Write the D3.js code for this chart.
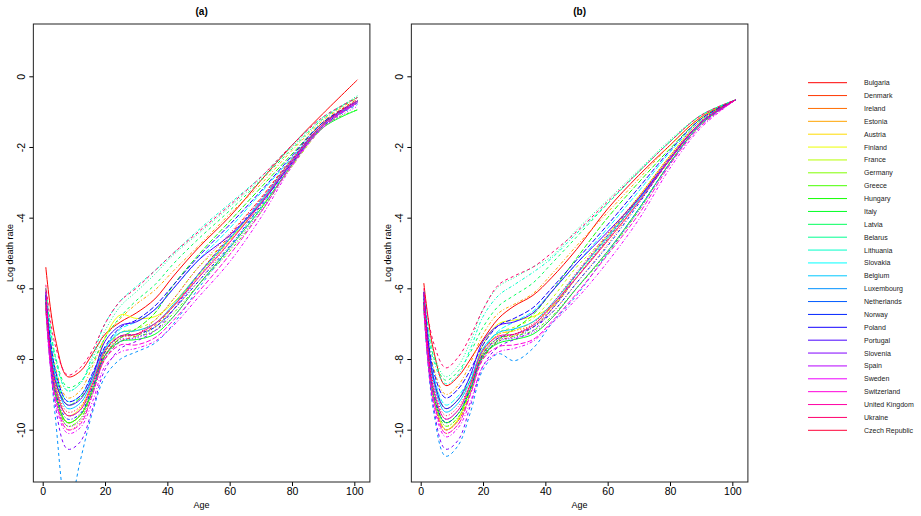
<!DOCTYPE html>
<html>
<head>
<meta charset="utf-8">
<script src="https://cdn.jsdelivr.net/npm/d3@7"></script>
<style>
  body { margin: 0; background: #fff; }
  text { font-family: "Liberation Sans", Arial, sans-serif; fill: #000; }
</style>
</head>
<body>
<div id="container"></div>
<script>
// Velikost celého obrázku
const width = 921;
const height = 516;

// Věkové uzly, ve kterých jsou odečtené hodnoty
const ages = [1, 4, 8, 12, 16, 20, 25, 30, 36, 42, 50, 60, 70, 80, 90, 101];

// Země (pořadí = pořadí v legendě)
const countries = ["Bulgaria", "Denmark", "Ireland", "Estonia", "Austria", "Finland", "France",
  "Germany", "Greece", "Hungary", "Italy", "Latvia", "Belarus", "Lithuania", "Slovakia",
  "Belgium", "Luxembourg", "Netherlands", "Norway", "Poland", "Portugal", "Slovenia", "Spain",
  "Sweden", "Switzerland", "United Kingdom", "Ukraine", "Czech Republic"];

// Panel (a): log úmrtnost podle věku
const logRateA = [
  [-5.4, -7.4, -8.5, -8.35, -7.85, -7.3, -6.95, -6.7, -6.3, -5.65, -4.85, -3.97, -2.95, -1.95, -1.05, -0.1],
  [-6.5, -8.9, -9.8, -9.6, -8.9, -8.0, -7.5, -7.35, -7.05, -6.5, -5.6, -4.5, -3.45, -2.3, -1.3, -0.65],
  [-6.3, -9.0, -10.0, -9.8, -9.0, -7.9, -7.35, -7.3, -7.1, -6.6, -5.8, -4.7, -3.55, -2.35, -1.35, -0.7],
  [-6.2, -8.2, -9.1, -8.9, -8.2, -7.4, -6.85, -6.45, -6.05, -5.5, -4.8, -3.9, -3.05, -2.1, -1.25, -0.6],
  [-6.5, -8.9, -9.8, -9.6, -8.8, -7.8, -7.25, -7.2, -7.0, -6.5, -5.65, -4.65, -3.6, -2.4, -1.35, -0.7],
  [-6.6, -8.7, -9.6, -9.4, -8.6, -7.4, -6.75, -6.85, -6.8, -6.4, -5.6, -4.6, -3.55, -2.4, -1.35, -0.7],
  [-6.4, -8.9, -9.8, -9.6, -8.8, -7.8, -7.25, -7.15, -6.9, -6.3, -5.4, -4.6, -3.7, -2.55, -1.45, -0.75],
  [-6.5, -9.0, -9.9, -9.7, -8.9, -7.9, -7.4, -7.3, -7.1, -6.5, -5.6, -4.6, -3.55, -2.35, -1.35, -0.7],
  [-6.2, -8.9, -9.9, -9.7, -8.9, -7.8, -7.35, -7.35, -7.2, -6.7, -5.9, -4.95, -3.85, -2.5, -1.4, -0.95],
  [-6.3, -8.4, -9.3, -9.1, -8.6, -7.9, -7.4, -7.15, -6.7, -5.9, -5.05, -4.1, -3.15, -2.2, -1.3, -0.7],
  [-6.4, -9.0, -9.8, -9.6, -8.9, -7.9, -7.5, -7.45, -7.3, -6.8, -5.9, -4.85, -3.75, -2.5, -1.45, -0.95],
  [-6.0, -7.9, -8.8, -8.65, -8.1, -7.4, -6.8, -6.35, -5.9, -5.3, -4.6, -3.8, -2.95, -2.05, -1.2, -0.6],
  [-6.0, -7.9, -8.9, -8.7, -8.0, -7.2, -6.5, -6.1, -5.6, -5.05, -4.45, -3.7, -2.9, -2.0, -1.2, -0.55],
  [-6.1, -8.0, -8.9, -8.7, -7.9, -7.0, -6.35, -5.95, -5.5, -5.0, -4.35, -3.6, -2.85, -1.95, -1.15, -0.6],
  [-6.1, -8.3, -9.2, -9.05, -8.45, -7.7, -7.15, -6.95, -6.6, -6.0, -5.2, -4.3, -3.3, -2.3, -1.35, -0.7],
  [-6.2, -8.5, -9.4, -9.25, -8.6, -7.7, -7.25, -7.2, -7.0, -6.45, -5.6, -4.6, -3.55, -2.4, -1.35, -0.75],
  [-6.6, -9.6, -12.4, -10.9, -9.5, -8.5, -8.0, -7.8, -7.55, -7.0, -6.0, -4.85, -3.7, -2.45, -1.4, -0.8],
  [-6.2, -8.7, -9.6, -9.45, -8.8, -7.95, -7.5, -7.4, -7.1, -6.6, -5.7, -4.6, -3.5, -2.35, -1.35, -0.7],
  [-6.3, -8.9, -9.7, -9.55, -8.8, -7.8, -7.35, -7.3, -7.1, -6.6, -5.8, -4.8, -3.65, -2.4, -1.35, -0.7],
  [-6.2, -8.3, -9.2, -9.05, -8.4, -7.65, -7.1, -6.9, -6.5, -5.9, -5.1, -4.2, -3.25, -2.25, -1.3, -0.7],
  [-6.1, -8.6, -9.3, -9.15, -8.5, -7.5, -7.05, -6.95, -6.6, -6.0, -5.2, -4.5, -3.6, -2.45, -1.4, -0.75],
  [-6.4, -9.3, -10.55, -10.35, -9.4, -8.3, -7.7, -7.5, -7.2, -6.6, -5.6, -4.55, -3.5, -2.35, -1.35, -0.7],
  [-6.3, -9.0, -9.9, -9.75, -8.95, -7.9, -7.45, -7.4, -7.2, -6.8, -5.9, -4.9, -3.8, -2.5, -1.45, -0.85],
  [-6.6, -9.2, -10.1, -9.95, -9.2, -8.2, -7.8, -7.7, -7.5, -7.05, -6.25, -5.25, -4.0, -2.55, -1.45, -0.75],
  [-6.5, -9.1, -10.0, -9.85, -9.0, -8.0, -7.6, -7.6, -7.4, -6.9, -6.1, -5.05, -3.85, -2.5, -1.4, -0.75],
  [-6.0, -8.8, -9.6, -9.45, -8.7, -7.75, -7.35, -7.3, -7.0, -6.5, -5.7, -4.7, -3.6, -2.4, -1.35, -0.7],
  [-5.9, -7.6, -8.45, -8.25, -7.75, -7.0, -6.35, -6.0, -5.5, -5.0, -4.4, -3.65, -2.85, -1.95, -1.15, -0.6],
  [-6.4, -8.6, -9.5, -9.35, -8.7, -7.9, -7.4, -7.3, -6.9, -6.3, -5.4, -4.45, -3.45, -2.35, -1.35, -0.65]
];

// Panel (b): log úmrtnost podle věku
const logRateB = [
  [-5.85, -7.7, -8.75, -8.5, -8.0, -7.45, -6.85, -6.5, -6.2, -5.7, -4.9, -3.75, -2.8, -1.95, -1.15, -0.67],
  [-6.5, -9.1, -10.0, -9.75, -8.95, -8.0, -7.5, -7.35, -7.1, -6.6, -5.7, -4.6, -3.45, -2.3, -1.3, -0.67],
  [-6.3, -9.0, -10.1, -9.85, -8.95, -7.85, -7.3, -7.2, -7.05, -6.7, -5.85, -4.75, -3.55, -2.35, -1.3, -0.67],
  [-6.2, -8.2, -9.0, -8.75, -8.1, -7.3, -6.7, -6.45, -6.15, -5.6, -4.8, -3.85, -2.9, -1.95, -1.15, -0.67],
  [-6.5, -9.0, -10.0, -9.75, -8.85, -7.8, -7.3, -7.2, -6.95, -6.55, -5.7, -4.65, -3.55, -2.35, -1.3, -0.67],
  [-6.5, -9.0, -10.0, -9.7, -8.7, -7.6, -7.0, -6.9, -6.8, -6.5, -5.6, -4.5, -3.4, -2.25, -1.25, -0.67],
  [-6.4, -8.9, -9.8, -9.55, -8.75, -7.75, -7.25, -7.1, -6.85, -6.3, -5.4, -4.5, -3.5, -2.4, -1.35, -0.67],
  [-6.5, -9.0, -9.9, -9.65, -8.9, -7.95, -7.45, -7.3, -7.05, -6.55, -5.65, -4.6, -3.5, -2.35, -1.3, -0.67],
  [-6.3, -8.9, -9.9, -9.65, -8.85, -7.85, -7.4, -7.35, -7.2, -6.8, -6.0, -5.0, -3.8, -2.45, -1.35, -0.67],
  [-6.3, -8.5, -9.4, -9.15, -8.6, -7.95, -7.45, -7.15, -6.75, -6.1, -5.15, -4.0, -3.0, -2.05, -1.2, -0.67],
  [-6.4, -9.0, -9.8, -9.55, -8.85, -7.9, -7.55, -7.45, -7.3, -6.85, -6.0, -4.95, -3.75, -2.45, -1.35, -0.67],
  [-6.1, -7.9, -8.6, -8.35, -7.8, -7.1, -6.5, -6.2, -5.85, -5.3, -4.55, -3.6, -2.7, -1.85, -1.1, -0.67],
  [-6.1, -7.8, -8.5, -8.2, -7.5, -6.6, -5.95, -5.7, -5.4, -5.1, -4.35, -3.5, -2.65, -1.8, -1.1, -0.67],
  [-6.2, -8.0, -8.7, -8.45, -7.7, -6.8, -6.2, -5.9, -5.55, -5.15, -4.45, -3.6, -2.7, -1.85, -1.1, -0.67],
  [-6.2, -8.4, -9.3, -9.05, -8.5, -7.75, -7.2, -6.95, -6.65, -6.1, -5.3, -4.3, -3.25, -2.15, -1.25, -0.67],
  [-6.2, -8.6, -9.5, -9.25, -8.6, -7.7, -7.25, -7.15, -6.95, -6.45, -5.6, -4.55, -3.5, -2.35, -1.3, -0.67],
  [-6.6, -9.4, -10.75, -10.45, -9.5, -8.3, -7.85, -8.05, -7.7, -7.0, -6.2, -5.0, -3.75, -2.45, -1.35, -0.67],
  [-6.3, -8.8, -9.7, -9.45, -8.8, -7.95, -7.5, -7.4, -7.1, -6.6, -5.7, -4.6, -3.45, -2.3, -1.3, -0.67],
  [-6.3, -8.9, -9.8, -9.55, -8.8, -7.85, -7.4, -7.3, -7.1, -6.7, -5.85, -4.8, -3.6, -2.35, -1.3, -0.67],
  [-6.1, -8.3, -9.1, -8.85, -8.3, -7.6, -7.05, -6.85, -6.55, -6.0, -5.2, -4.2, -3.15, -2.1, -1.2, -0.67],
  [-6.1, -8.5, -9.4, -9.15, -8.45, -7.5, -7.05, -6.95, -6.7, -6.1, -5.3, -4.4, -3.45, -2.35, -1.3, -0.67],
  [-6.4, -9.3, -10.55, -10.3, -9.3, -8.2, -7.65, -7.45, -7.2, -6.6, -5.6, -4.5, -3.45, -2.3, -1.3, -0.67],
  [-6.3, -9.0, -10.0, -9.75, -8.95, -7.9, -7.45, -7.4, -7.25, -6.85, -6.0, -4.95, -3.8, -2.45, -1.35, -0.67],
  [-6.6, -9.2, -10.2, -9.95, -9.2, -8.2, -7.8, -7.7, -7.5, -7.0, -6.3, -5.25, -4.05, -2.6, -1.45, -0.67],
  [-6.5, -9.1, -10.1, -9.85, -9.0, -8.0, -7.65, -7.6, -7.45, -6.95, -6.15, -5.05, -3.9, -2.5, -1.4, -0.67],
  [-6.1, -8.8, -9.7, -9.45, -8.7, -7.75, -7.35, -7.3, -7.05, -6.5, -5.7, -4.65, -3.55, -2.35, -1.3, -0.67],
  [-6.0, -7.5, -8.25, -7.95, -7.35, -6.6, -5.9, -5.65, -5.4, -5.0, -4.4, -3.55, -2.7, -1.85, -1.1, -0.67],
  [-6.4, -8.7, -9.6, -9.35, -8.7, -7.9, -7.4, -7.3, -7.0, -6.45, -5.55, -4.45, -3.4, -2.25, -1.25, -0.67]
];

// Popisky os
const xTicks = [0, 20, 40, 60, 80, 100];
const yTicks = [-10, -8, -6, -4, -2, 0];

// Barvy jako rainbow(28) a typy čar jako lty 1:5
const colors = countries.map((c, i) => d3.hsl(i * 360 / countries.length, 1, 0.5).formatHex());
const dashes = [null, "3,3", "1,2", "1,2,3,2", "5,2"];

// Okraje obou panelů (px)
const panels = [
  { title: "(a)", data: logRateA, left: 33.35, right: 369.9 },
  { title: "(b)", data: logRateB, left: 411.35, right: 747.9 }
];
const plotTop = 24;
const plotBottom = 482;

const svg = d3.create("svg")
    .attr("width", width)
    .attr("height", height);

svg.append("rect").attr("width", width).attr("height", height).attr("fill", "#fff");

const y = d3.scaleLinear()
    .domain([-11.48, 1.48])
    .range([plotBottom, plotTop]);

panels.forEach((p, k) => {
  const x = d3.scaleLinear()
      .domain([-3, 105])
      .range([p.left, p.right]);

  const g = svg.append("g");

  // Ořez křivek na plochu grafu
  g.append("clipPath").attr("id", "clip" + k)
    .append("rect")
      .attr("x", p.left).attr("y", plotTop)
      .attr("width", p.right - p.left).attr("height", plotBottom - plotTop);

  const line = d3.line()
      .x((d, i) => x(ages[i]))
      .y(d => y(d))
      .curve(d3.curveCatmullRom.alpha(0.5));

  g.append("g")
      .attr("clip-path", `url(#clip${k})`)
    .selectAll("path")
    .data(p.data)
    .join("path")
      .attr("fill", "none")
      .attr("stroke", (d, i) => colors[i])
      .attr("stroke-width", 1)
      .attr("stroke-dasharray", (d, i) => dashes[i % 5])
      .attr("d", line);

  // Osa X
  const ax = g.append("g")
      .attr("transform", `translate(0,${plotBottom})`)
      .call(d3.axisBottom(x).tickValues(xTicks).tickSize(4).tickPadding(2).tickFormat(d => d));
  ax.select(".domain").remove();
  ax.selectAll("text").style("font-size", "10.5px").attr("font-family", null);

  // Osa Y (popisky otočené jako v R)
  const ay = g.append("g")
      .attr("transform", `translate(${p.left},0)`)
      .call(d3.axisLeft(y).tickValues(yTicks).tickSize(4).tickFormat(d => d));
  ay.select(".domain").remove();
  ay.selectAll("text")
      .style("font-size", "10.5px")
      .attr("font-family", null)
      .attr("x", null).attr("dy", null)
      .attr("text-anchor", "middle")
      .attr("transform", "translate(-8,0) rotate(-90)");

  // Rámeček
  g.append("rect")
      .attr("x", p.left).attr("y", plotTop)
      .attr("width", p.right - p.left).attr("height", plotBottom - plotTop)
      .attr("fill", "none").attr("stroke", "#222").attr("stroke-width", 1);

  const cx = (p.left + p.right) / 2;
  g.append("text")
      .attr("x", cx).attr("y", 15)
      .attr("text-anchor", "middle")
      .style("font-size", "10px").style("font-weight", "bold")
      .text(p.title);

  g.append("text")
      .attr("x", cx).attr("y", 508)
      .attr("text-anchor", "middle")
      .style("font-size", "9px")
      .text("Age");

  g.append("text")
      .attr("transform", `translate(${p.left - 20},253) rotate(-90)`)
      .attr("text-anchor", "middle")
      .style("font-size", "9px")
      .text("Log death rate");
});

// Legenda
const legend = svg.append("g");
const rowY = d3.scaleLinear().domain([0, countries.length - 1]).range([82.7, 430.3]);

legend.selectAll("line")
  .data(countries)
  .join("line")
    .attr("x1", 808).attr("x2", 847)
    .attr("y1", (d, i) => rowY(i)).attr("y2", (d, i) => rowY(i))
    .attr("stroke", (d, i) => colors[i])
    .attr("stroke-width", 1);

legend.selectAll("text")
  .data(countries)
  .join("text")
    .attr("x", 864)
    .attr("y", (d, i) => rowY(i))
    .attr("dy", "0.35em")
    .style("font-size", "7px")
    .style("fill", "#222")
    .text(d => d);

container.append(svg.node());
</script>
</body>
</html>
